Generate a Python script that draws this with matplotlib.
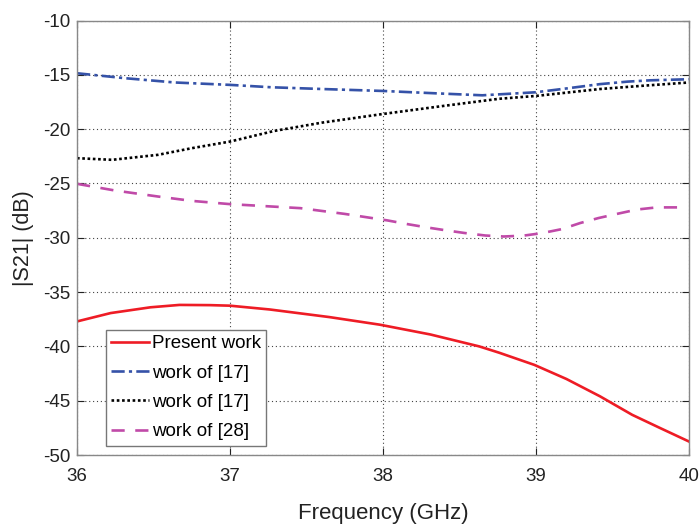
import numpy as np
import matplotlib.pyplot as plt

# values (frequency in GHz, |S21| in dB)
f_present = [36.0, 36.22, 36.48, 36.67, 36.87, 37.0, 37.26, 37.65, 37.98, 38.31, 38.63, 38.76,
             38.99, 39.2, 39.42, 39.63, 39.81, 40.0]
s_present = [-37.7, -36.93, -36.4, -36.18, -36.2, -36.25, -36.6, -37.3, -38.0, -38.9, -40.0, -40.58,
             -41.7, -43.0, -44.6, -46.3, -47.5, -48.75]

f_work17a = [36.0, 36.31, 36.64, 37.0, 37.27, 37.6, 38.0, 38.35, 38.65, 39.0, 39.2, 39.42, 39.6, 39.75, 40.0]
s_work17a = [-14.85, -15.3, -15.7, -15.92, -16.14, -16.3, -16.48, -16.7, -16.88, -16.6, -16.25, -15.85,
             -15.62, -15.5, -15.4]

f_work17b = [36.0, 36.23, 36.53, 36.75, 37.0, 37.29, 37.6, 38.0, 38.4, 38.76, 39.0, 39.42, 39.7, 40.0]
s_work17b = [-22.67, -22.82, -22.36, -21.75, -21.14, -20.16, -19.4, -18.6, -17.85, -17.2, -16.94, -16.3,
             -16.0, -15.7]

f_work28 = [36.0, 36.25, 36.53, 36.75, 37.0, 37.46, 37.75, 38.03, 38.16, 38.29, 38.42, 38.54, 38.67, 38.79,
            38.92, 39.04, 39.17, 39.29, 39.41, 39.53, 39.66, 39.79, 39.94]
s_work28 = [-25.03, -25.65, -26.2, -26.6, -26.9, -27.27, -27.8, -28.4, -28.74, -29.05, -29.33, -29.57,
            -29.79, -29.88, -29.8, -29.57, -29.2, -28.64, -28.18, -27.8, -27.4, -27.2, -27.2]

labels = ['Present work', 'work of [17]', 'work of [17]', 'work of [28]']

plt.rcParams['font.family'] = ['Liberation Sans', 'DejaVu Sans']
plt.rcParams['axes.unicode_minus'] = False
fig = plt.figure(figsize=(7, 5.25), dpi=100)
ax = fig.add_axes([0.11, 0.1333, 0.874, 0.8275])

ax.plot(f_present, s_present, color='#ee1c25', lw=1.9, label=labels[0])
ax.plot(f_work17a, s_work17a, color='#3552a8', lw=1.9, linestyle=(0, (5, 1.6, 1.2, 1.6)), label=labels[1])
ax.plot(f_work17b, s_work17b, color='black', lw=1.9, linestyle=(0, (1, 1)), label=labels[2])
ax.plot(f_work28, s_work28, color='#c04aa8', lw=1.9, linestyle=(0, (5, 4)), label=labels[3])

ax.set_xlim(36, 40)
ax.set_ylim(-50, -10)
ax.set_xticks([36, 37, 38, 39, 40])
ax.set_yticks(np.arange(-50, -9, 5))
ax.grid(True, color='#444444', linestyle=(0, (1, 2.5)), linewidth=0.8)
ax.tick_params(direction='in', top=True, right=True, labelsize=13.5, colors='#222222', length=5, width=0.8)
ax.tick_params(axis='x', pad=9)
ax.tick_params(axis='y', pad=5)
for sp in ax.spines.values():
    sp.set_color('#888888')
    sp.set_linewidth(1)

ax.set_xlabel('Frequency (GHz)', fontsize=16, color='#222222', labelpad=13)
ax.set_ylabel('|S21| (dB)', fontsize=15.5, color='#222222', labelpad=6)

leg = ax.legend(loc='lower left', bbox_to_anchor=(0.047, 0.021), fontsize=13.5, handlelength=2.0,
                handletextpad=0.15, labelspacing=0.65, borderpad=0.3, borderaxespad=0,
                fancybox=False, framealpha=1)
leg.get_frame().set_edgecolor('#777777')
leg.get_frame().set_linewidth(1)

fig.savefig('out.png', dpi=100)
